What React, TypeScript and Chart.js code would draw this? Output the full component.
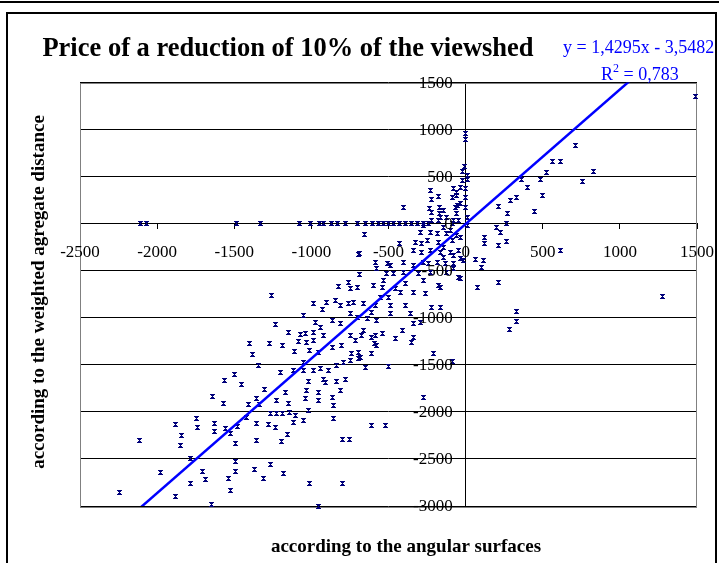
import React, { useEffect, useRef } from "react";
import { Chart, registerables } from "chart.js";

Chart.register(...registerables);

const FONT = '"Liberation Serif", "Times New Roman", Times, serif';

const titleText = "Price of a reduction of 10% of the viewshed";
const xAxisTitle = "according to the angular surfaces";
const yAxisTitle = "according to the weighted agregate distance";
const equationText = "y = 1,4295x - 3,5482";
const r2Value = " = 0,783";

const xTickLabels = ["-2500", "-2000", "-1500", "-1000", "-500", "0", "500", "1000", "1500"];
const yTickLabels = ["1500", "1000", "500", "0", "-500", "-1000", "-1500", "-2000", "-2500", "-3000"];

// trend line end points (y = 1,4295x - 3,5482)
const trendX = [-2500, 1500];
const trendY = [-3577.3, 2140.7];

// scattered observations, grouped by region of the plot
const rightX = [1489, 711, 560, 614, 523, 826, 759, 484, 361, 400, 329, 290, 497, 446, 212, 269, 264, 197, 225, 123, 123, 214, 268, 614, 63, 117, 102, 214, 78, 329, 329, 283, 1274, -88, -47];
const rightY = [1354, 832, 663, 663, 546, 549, 443, 471, 471, 389, 283, 248, 301, 131, 184, 106, 6, -36, -89, -143, -206, -231, -185, -284, -383, -390, -462, -621, -674, -930, -1036, -1128, -773, -1465, -568];

const zeroRowX = [-2110, -2071, -1487, -1331, -1075, -1004, -945, -920, -868, -829, -777, -699, -650, -605, -566, -534, -501, -469, -430, -391, -352, -313, -270, -240, -88];
const zeroRowY = [0, 0, 0, 0, 0, 0, 0, 0, 0, 0, 0, 0, 0, 0, 0, 0, 0, 0, 0, 0, 0, 0, 0, 0, 0];

const topColX = [-2, -2, -6, -23, 9, -23, 9, -34, -2, -78, -60, -2, -88, -229, -222, -233, -402, -171, -171, -52, -60, -121, -2, 9, -45, -175, -143, 9];
const topColY = [957, 894, 610, 549, 514, 461, 468, 389, 372, 372, 301, 283, 277, 354, 255, 160, 170, 177, 106, 195, 106, 70, 177, 70, 35, 35, -36, -18];

const nearAxisX = [-657, -687, -428, -505, -326, -283, -272, -218, -164, -218, -143, -121, -78, -34, -143, -34, -78, -132, -175, -56, -67, -30];
const nearAxisY = [-114, -319, -213, -419, -196, -213, -18, 35, 70, 123, 142, -106, 35, 213, -249, -372, -479, -426, 290, 336, 177, -143];

const centerX = [-294, -229, -185, -99, -56, -175, -250, -88, -337, -283, -229, -164, -99, -45, -143, -78, -13, -78, -185, -240, -272, -337, -402, -488, -586, -575, -510, -467, -402, -532, -391, -272, -175, -34, -121, -229, -305, -597, -542, -456, -337, -261, -164, -499, -553, -586, -488, -391, -218, -164, -607, -488, -359, -294, -337, -575, -542, -412, -348, -456, -586, -694, -687];
const centerY = [-96, -89, -106, -71, -124, -196, -178, -178, -284, -302, -284, -302, -302, -284, -355, -337, -390, -426, -408, -426, -408, -444, -408, -444, -408, -479, -532, -532, -515, -603, -638, -603, -657, -585, -515, -515, -532, -657, -674, -692, -728, -745, -674, -781, -781, -869, -869, -869, -887, -887, -941, -958, -958, -1047, -1064, -1029, -1170, -1135, -1260, -1224, -1189, -330, -541];

const midLeftX = [-824, -759, -748, -704, -986, -931, -899, -845, -813, -759, -726, -661, -1050, -975, -942, -866, -813, -748, -704, -639, -1040, -986, -986, -1029, -921, -866, -802, -748, -715, -661, -1050, -986, -942, -888, -834, -791, -748, -683, -650, -672, -694, -694, -737];
const midLeftY = [-667, -621, -692, -674, -851, -915, -834, -816, -869, -851, -834, -851, -976, -1047, -1100, -1029, -1064, -958, -994, -1011, -1170, -1153, -1242, -1260, -1189, -1313, -1295, -1189, -1242, -1135, -1473, -1561, -1543, -1561, -1508, -1473, -1455, -1419, -1526, -1189, -1366, -1436, -1383];

const lowerX = [-607, -592, -607, -575, -921, -834, -1018, -910, -1029, -953, -866, -813, -1040, -953, -1018, -1104, -1115, -1050, -856, -607, -521, -499, -207, -276, -341, -795, -752, -1012, -795, -953, -856, -780, -423];
const lowerY = [-1206, -1277, -1383, -1295, -1653, -1674, -1674, -1685, -1774, -1792, -1845, -1774, -1862, -1880, -1987, -2039, -2111, -2093, -2075, -2146, -2146, -1518, -1383, -1845, -1206, -2298, -2298, -2766, -2760, -3000, -1933, -1657, -728];

const farLeftX = [-1256, -1234, -1148, -1072, -1401, -1271, -1184, -1083, -1379, -1111, -1342, -1202, -1119, -1054, -1563, -1500, -1455, -1303, -1639, -1569, -1407, -1336, -1357, -1165, -1223, -1148, -1262, -1223, -1184, -1141, -1234, -1152, -1191, -1418, -1357, -1277, -1746, -1738, -1883, -1839, -1846, -1628, -1630, -1554, -1526, -1493, -1357, -2116, -1782, -1493, -1493, -1975, -1709, -1688, -1785, -1539, -1526, -1368, -1310, -1262, -1180, -2246, -1878, -1645, -1012, -953, -1480];
const farLeftY = [-763, -1075, -1153, -1178, -1277, -1277, -1295, -1252, -1391, -1356, -1508, -1579, -1561, -1561, -1667, -1607, -1710, -1766, -1838, -1909, -1923, -1923, -1862, -1792, -1880, -1915, -2015, -2022, -2022, -2005, -2164, -2242, -2313, -2058, -2122, -2135, -2068, -2164, -2139, -2253, -2359, -2122, -2207, -2175, -2234, -2341, -2306, -2306, -2500, -2526, -2632, -2643, -2636, -2721, -2756, -2703, -2830, -2614, -2703, -2554, -2654, -2856, -2902, -2979, -1348, -1366, -2150];

const groupsX = [rightX, zeroRowX, topColX, nearAxisX, centerX, midLeftX, lowerX, farLeftX];
const groupsY = [rightY, zeroRowY, topColY, nearAxisY, centerY, midLeftY, lowerY, farLeftY];

function makeMarker(): HTMLCanvasElement {
  const c = document.createElement("canvas");
  c.width = 5;
  c.height = 5;
  const g = c.getContext("2d")!;
  g.fillStyle = "#00007a";
  const pat = ["XXXXX", ".XXX.", "..X..", ".XXX.", "XXXXX"];
  pat.forEach((row, r) => {
    for (let col = 0; col < row.length; col++) {
      if (row[col] === "X") g.fillRect(col, r, 1, 1);
    }
  });
  return c;
}

const decorPlugin = {
  id: "decor",
  beforeDraw(chart: any) {
    const ctx = chart.ctx as CanvasRenderingContext2D;
    ctx.save();
    ctx.fillStyle = "#ffffff";
    ctx.fillRect(0, 0, chart.width, chart.height);
    ctx.strokeStyle = "#000000";
    ctx.lineWidth = 2;
    ctx.beginPath();
    ctx.moveTo(0, 2);
    ctx.lineTo(chart.width, 2);
    ctx.stroke();
    ctx.beginPath();
    ctx.moveTo(7, chart.height + 2);
    ctx.lineTo(7, 13);
    ctx.lineTo(716, 13);
    ctx.lineTo(716, chart.height + 2);
    ctx.stroke();
    ctx.restore();
  },
  beforeDatasetsDraw(chart: any) {
    const ctx = chart.ctx as CanvasRenderingContext2D;
    const { left, top, right, bottom } = chart.chartArea;
    ctx.save();
    ctx.strokeStyle = "#808080";
    ctx.lineWidth = 1;
    ctx.strokeRect(Math.round(left) + 0.5, Math.round(top) + 0.5, Math.round(right - left) - 1, Math.round(bottom - top));
    ctx.restore();
    ctx.imageSmoothingEnabled = false;
  },
  afterDatasetsDraw(chart: any) {
    chart.ctx.imageSmoothingEnabled = true;
  },
  afterDraw(chart: any) {
    const ctx = chart.ctx as CanvasRenderingContext2D;
    const xs = chart.scales.x;
    const ys = chart.scales.y;
    const x0 = xs.getPixelForValue(0);
    const y0 = ys.getPixelForValue(0);
    ctx.save();
    ctx.fillStyle = "#000000";
    ctx.font = `17px ${FONT}`;
    ctx.textAlign = "center";
    ctx.textBaseline = "middle";
    xTickLabels.forEach((t) => {
      ctx.fillText(t, xs.getPixelForValue(Number(t)), y0 + 29);
    });
    ctx.textAlign = "right";
    yTickLabels.forEach((t) => {
      ctx.fillText(t, x0 - 13, ys.getPixelForValue(Number(t)) + 1);
    });

    ctx.textBaseline = "alphabetic";
    ctx.textAlign = "center";
    ctx.font = `bold 26.5px ${FONT}`;
    ctx.fillText(titleText, 288, 56);

    ctx.font = `bold 19px ${FONT}`;
    ctx.fillText(xAxisTitle, 406, 552);

    ctx.save();
    ctx.translate(44, 292);
    ctx.rotate(-Math.PI / 2);
    ctx.fillText(yAxisTitle, 0, 0);
    ctx.restore();

    ctx.fillStyle = "#0000ff";
    ctx.textAlign = "left";
    ctx.font = `18px ${FONT}`;
    ctx.fillText(equationText, 563, 53);
    let x = 601;
    ctx.fillText("R", x, 80);
    x += ctx.measureText("R").width;
    ctx.font = `12px ${FONT}`;
    ctx.fillText("2", x, 72);
    x += ctx.measureText("2").width;
    ctx.font = `18px ${FONT}`;
    ctx.fillText(r2Value, x, 80);
    ctx.restore();
  },
};

export default function App() {
  const ref = useRef<HTMLCanvasElement>(null);
  useEffect(() => {
    const points: { x: number; y: number }[] = [];
    groupsX.forEach((gx, gi) => {
      gx.forEach((v, i) => points.push({ x: v, y: groupsY[gi][i] }));
    });
    const trend = trendX.map((v, i) => ({ x: v, y: trendY[i] }));
    const marker = makeMarker();
    const chart = new Chart(ref.current!, {
      type: "scatter",
      data: {
        datasets: [
          {
            type: "line",
            data: trend,
            borderColor: "#0000ff",
            borderWidth: 2.5,
            pointRadius: 0,
            fill: false,
            order: 0,
          } as any,
          {
            type: "scatter",
            data: points,
            pointStyle: marker as any,
            pointRadius: 3,
            pointHoverRadius: 3,
            clip: false as any,
            order: 1,
          } as any,
        ],
      },
      options: {
        responsive: false,
        animation: false,
        events: [],
        layout: { padding: { left: 80, right: 22, top: 82.5, bottom: 57 } },
        plugins: {
          legend: { display: false },
          tooltip: { enabled: false },
          title: { display: false },
        },
        scales: {
          x: {
            type: "linear",
            position: { y: 0 } as any,
            min: -2500,
            max: 1500,
            ticks: { stepSize: 500, display: false },
            grid: { display: true, drawOnChartArea: false, drawTicks: true, tickLength: 5, color: "#000000" },
            border: { display: true, color: "#000000", width: 1 },
          },
          y: {
            type: "linear",
            position: { x: 0 } as any,
            min: -3000,
            max: 1500,
            ticks: { stepSize: 500, display: false },
            grid: { display: true, drawOnChartArea: true, drawTicks: true, tickLength: 6, color: "#000000" },
            border: { display: true, color: "#000000", width: 1 },
          },
        },
      },
      plugins: [decorPlugin],
    });
    return () => chart.destroy();
  }, []);
  return (
    <div style={{ position: "absolute", left: 0, top: 0, width: 719, height: 563 }}>
      <canvas ref={ref} width={719} height={563} style={{ display: "block" }} />
    </div>
  );
}
